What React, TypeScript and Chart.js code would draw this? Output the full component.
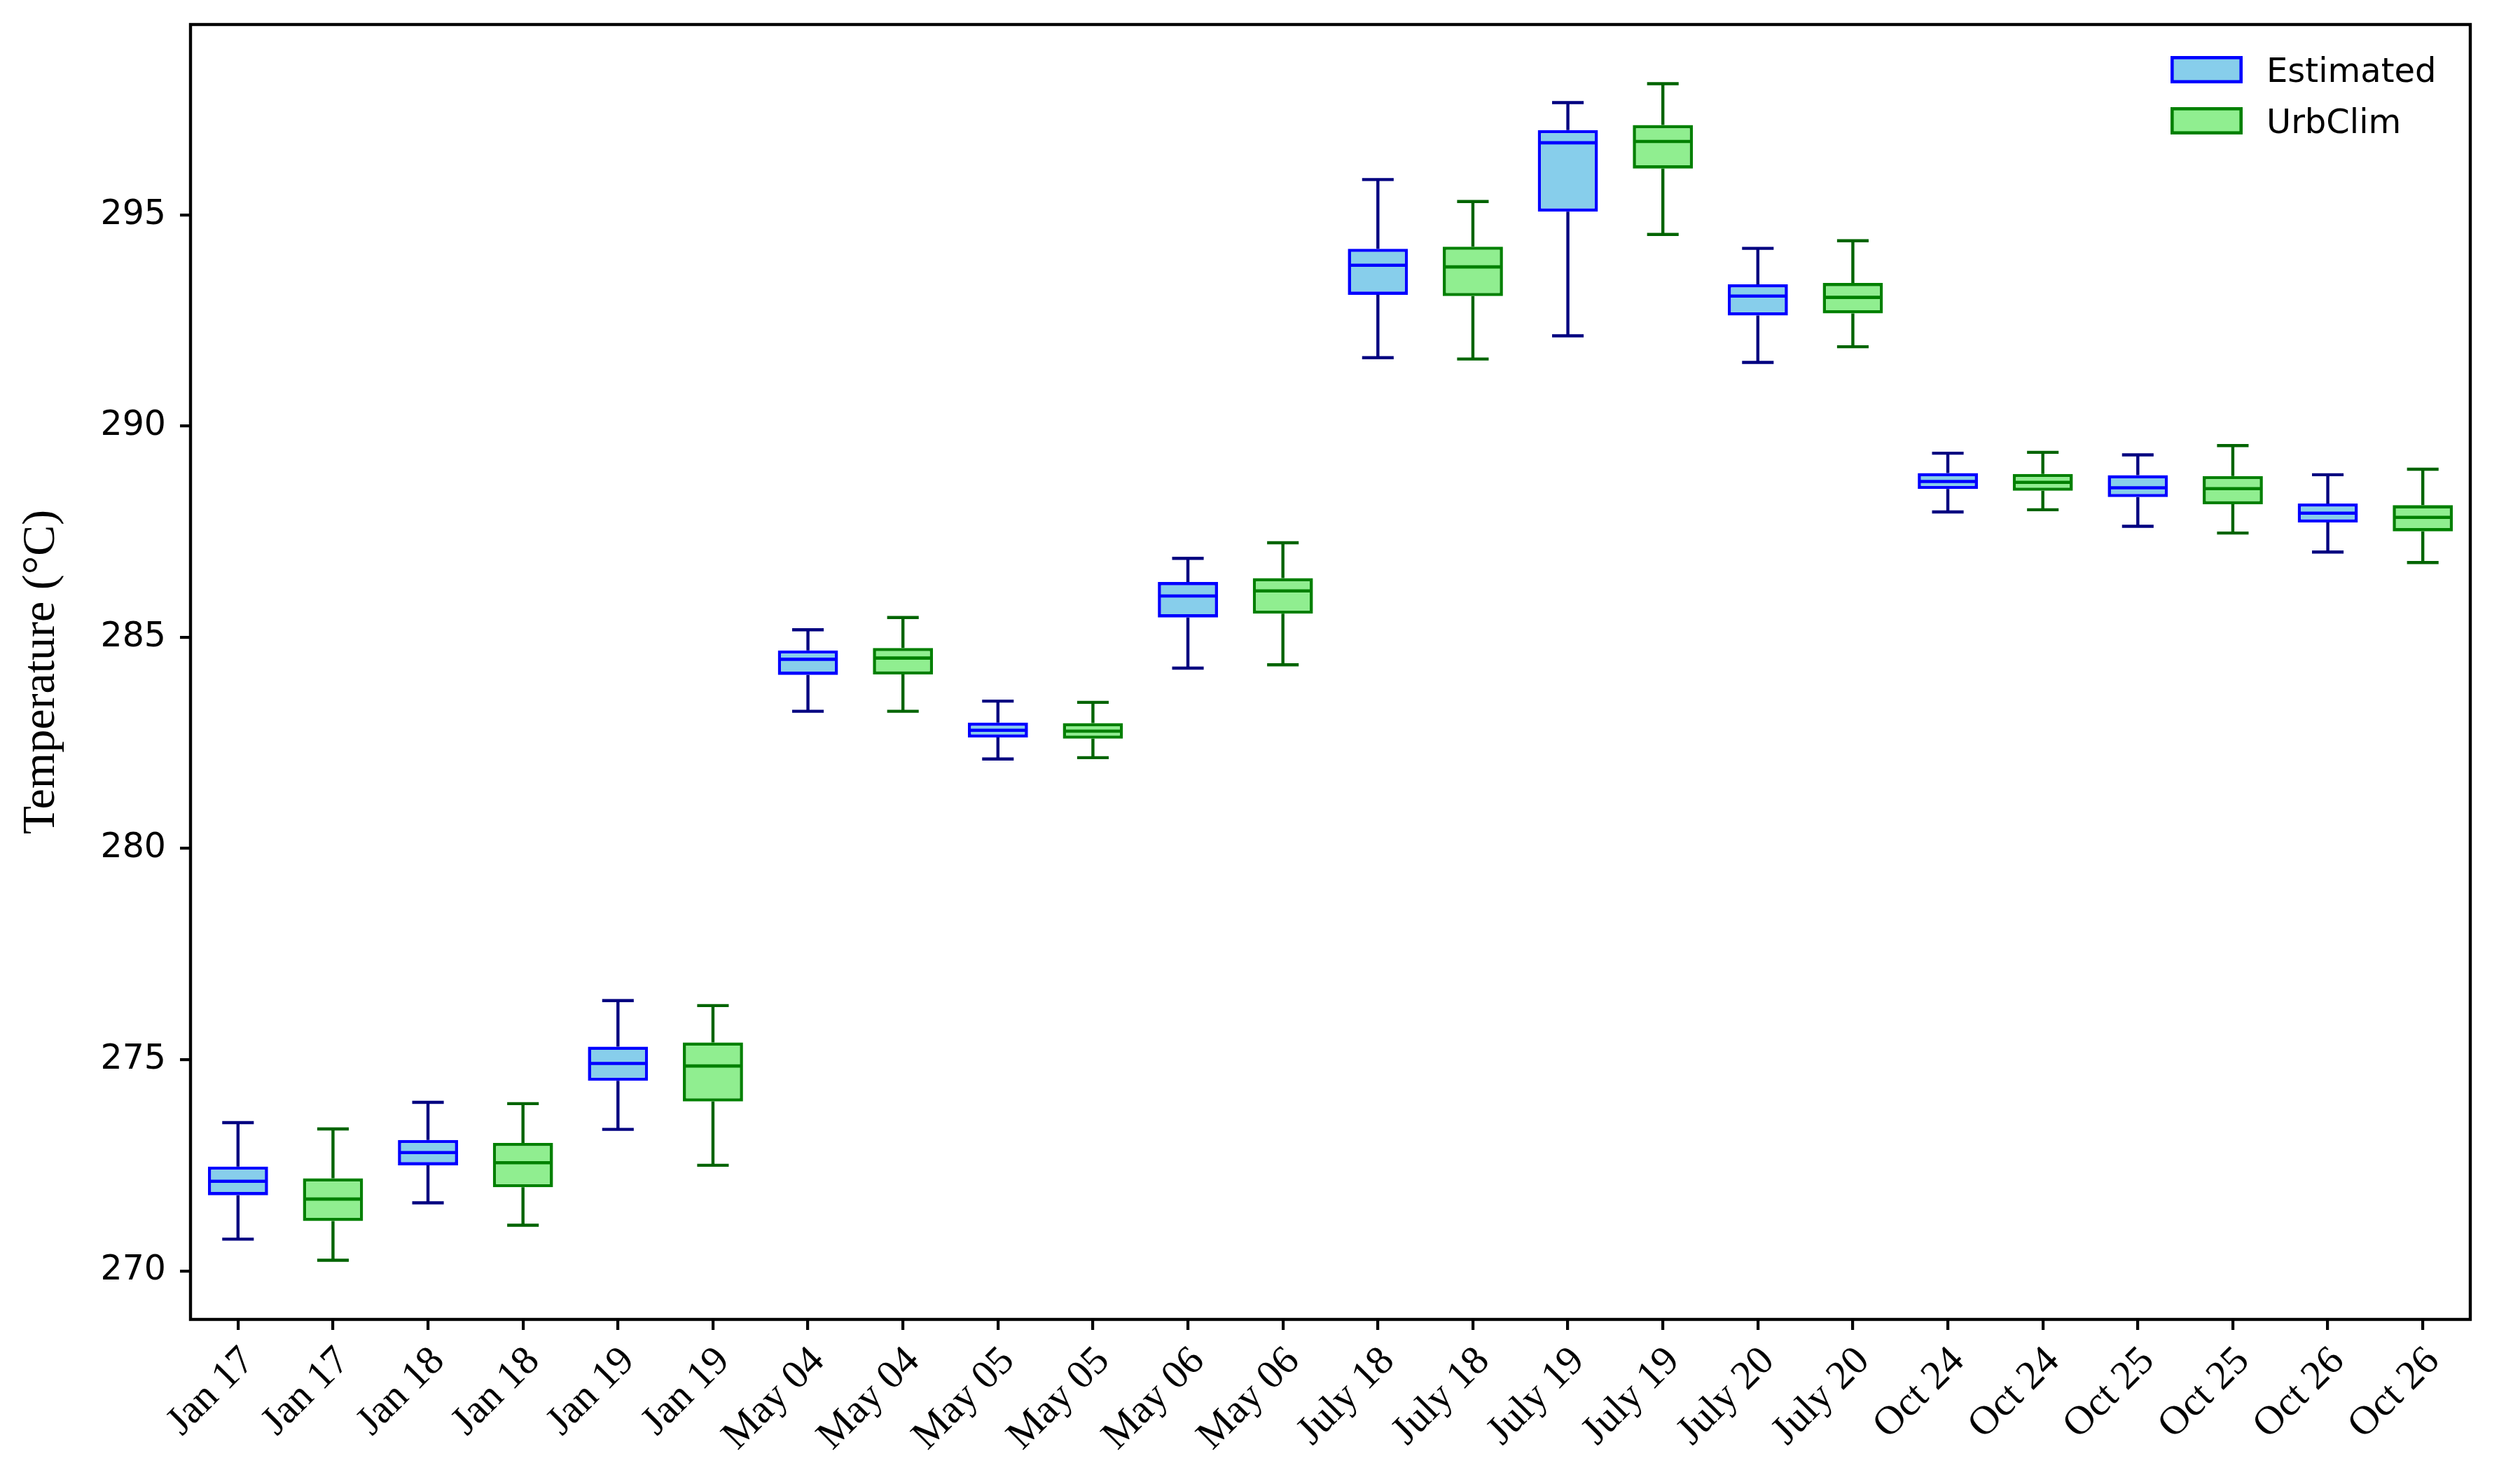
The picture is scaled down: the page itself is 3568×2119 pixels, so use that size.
import React, { useEffect, useRef } from "react";
import { Chart, registerables } from "chart.js";

Chart.register(...registerables);

const W = 3568;
const H = 2119;

// 24 tick labels (each date appears twice: Estimated, then UrbClim)
const categories = [
  "Jan 17", "Jan 17", "Jan 18", "Jan 18", "Jan 19", "Jan 19",
  "May 04", "May 04", "May 05", "May 05", "May 06", "May 06",
  "July 18", "July 18", "July 19", "July 19", "July 20", "July 20",
  "Oct 24", "Oct 24", "Oct 25", "Oct 25", "Oct 26", "Oct 26",
];

const seriesNames = ["Estimated", "UrbClim"];

// Estimated (one value per date)
const estLow = [270.75, 271.61, 273.35, 283.25, 282.12, 284.27, 291.62, 292.14, 291.51, 287.97, 287.63, 287.02];
const estQ1 = [271.79, 272.5, 274.5, 284.11, 282.63, 285.47, 293.11, 295.08, 292.62, 288.51, 288.32, 287.72];
const estMed = [272.12, 272.8, 274.91, 284.48, 282.8, 285.98, 293.81, 296.71, 293.08, 288.69, 288.54, 287.94];
const estQ3 = [272.47, 273.1, 275.31, 284.69, 282.98, 286.31, 294.2, 297.01, 293.36, 288.89, 288.84, 288.17];
const estHigh = [273.51, 273.99, 276.4, 285.18, 283.49, 286.87, 295.84, 297.66, 294.21, 289.36, 289.32, 288.85];

// UrbClim (one value per date)
const urbLow = [270.25, 271.08, 272.5, 283.25, 282.15, 284.35, 291.59, 294.54, 291.88, 288.02, 287.47, 286.77];
const urbQ1 = [271.18, 271.98, 274.01, 284.12, 282.6, 285.56, 293.08, 296.1, 292.67, 288.47, 288.15, 287.51];
const urbMed = [271.7, 272.56, 274.85, 284.51, 282.78, 286.1, 293.77, 296.74, 293.05, 288.67, 288.52, 287.84];
const urbQ3 = [272.19, 273.03, 275.41, 284.75, 282.97, 286.4, 294.25, 297.13, 293.39, 288.87, 288.82, 288.13];
const urbHigh = [273.36, 273.96, 276.28, 285.47, 283.46, 287.24, 295.32, 298.11, 294.39, 289.38, 289.54, 288.98];

const yTicks = [270, 275, 280, 285, 290, 295];
const yMin = 268.85;
const yMax = 299.51;

const stats = [
  { low: estLow, q1: estQ1, med: estMed, q3: estQ3, high: estHigh },
  { low: urbLow, q1: urbQ1, med: urbMed, q3: urbQ3, high: urbHigh },
];

const styles = [
  { fill: "#87CEEB", edge: "#0000FF", whisker: "#000080", median: "#0000FF" },
  { fill: "#90EE90", edge: "#008000", whisker: "#006400", median: "#008000" },
];

const BOX_LW = 4.6;
const WHISKER_LW = 4.4;
const SPINE_LW = 4.4;

function seriesData(si: number) {
  return categories.map((_, i) => {
    if (i % 2 !== si) return null;
    const d = i >> 1;
    return [stats[si].q1[d], stats[si].q3[d]];
  });
}

const boxExtras = {
  id: "boxExtras",
  afterDatasetsDraw(chart: any) {
    const ctx = chart.ctx;
    const ys = chart.scales.y;
    const xs = chart.scales.x;
    const spacing = xs.getPixelForValue(1) - xs.getPixelForValue(0);
    const capHalf = spacing * 0.15;
    ctx.save();
    chart.data.datasets.forEach((ds: any, di: number) => {
      const meta = chart.getDatasetMeta(di);
      const st = styles[di];
      const s = stats[di];
      meta.data.forEach((el: any, i: number) => {
        if (!ds.data[i]) return;
        const d = i >> 1;
        const x = el.x;
        const half = el.width / 2;
        const pLow = ys.getPixelForValue(s.low[d]);
        const pQ1 = ys.getPixelForValue(s.q1[d]);
        const pMed = ys.getPixelForValue(s.med[d]);
        const pQ3 = ys.getPixelForValue(s.q3[d]);
        const pHigh = ys.getPixelForValue(s.high[d]);
        // whiskers
        ctx.strokeStyle = st.whisker;
        ctx.lineWidth = WHISKER_LW;
        ctx.lineCap = "butt";
        ctx.beginPath();
        ctx.moveTo(x, pQ1);
        ctx.lineTo(x, pLow);
        ctx.moveTo(x, pQ3);
        ctx.lineTo(x, pHigh);
        ctx.stroke();
        // caps
        ctx.lineCap = "square";
        ctx.beginPath();
        ctx.moveTo(x - capHalf, pLow);
        ctx.lineTo(x + capHalf, pLow);
        ctx.moveTo(x - capHalf, pHigh);
        ctx.lineTo(x + capHalf, pHigh);
        ctx.stroke();
        // median
        ctx.strokeStyle = st.median;
        ctx.lineWidth = BOX_LW;
        ctx.lineCap = "butt";
        ctx.beginPath();
        ctx.moveTo(x - half + BOX_LW / 2, pMed);
        ctx.lineTo(x + half - BOX_LW / 2, pMed);
        ctx.stroke();
      });
    });
    ctx.restore();
  },
};

const framePlugin = {
  id: "frame",
  afterDraw(chart: any) {
    const { ctx, chartArea } = chart;
    ctx.save();
    ctx.strokeStyle = "#000";
    ctx.lineWidth = SPINE_LW;
    ctx.lineJoin = "miter";
    ctx.strokeRect(chartArea.left, chartArea.top, chartArea.right - chartArea.left, chartArea.bottom - chartArea.top);
    ctx.restore();
  },
};

const legendPlugin = {
  id: "customLegend",
  afterDraw(chart: any) {
    const { ctx, chartArea } = chart;
    ctx.save();
    const left = chartArea.right - 428;
    const pw = 103;
    const ph = 39;
    const rowTops = [chartArea.top + 45, chartArea.top + 118];
    const baselines = [chartArea.top + 82, chartArea.top + 155];
    seriesNames.forEach((name, i) => {
      const st = styles[i];
      const top = rowTops[i];
      ctx.fillStyle = st.fill;
      ctx.fillRect(left, top, pw, ph);
      ctx.strokeStyle = st.edge;
      ctx.lineWidth = BOX_LW;
      ctx.strokeRect(left + BOX_LW / 2, top + BOX_LW / 2, pw - BOX_LW, ph - BOX_LW);
      ctx.fillStyle = "#000";
      ctx.font = "48px 'DejaVu Sans'";
      ctx.textAlign = "left";
      ctx.textBaseline = "alphabetic";
      ctx.fillText(name, chartArea.right - 291, baselines[i]);
    });
    ctx.restore();
  },
};

export default function App() {
  const ref = useRef<HTMLCanvasElement>(null);

  useEffect(() => {
    const canvas = ref.current;
    if (!canvas) return;
    const chart = new Chart(canvas, {
      type: "bar",
      data: {
        labels: categories,
        datasets: seriesNames.map((name, si) => ({
          label: name,
          data: seriesData(si) as any,
          backgroundColor: styles[si].fill,
          borderColor: styles[si].edge,
          borderWidth: BOX_LW,
          borderSkipped: false,
          grouped: false,
          barPercentage: 0.633,
          categoryPercentage: 1.0,
        })),
      },
      options: {
        responsive: false,
        animation: false,
        devicePixelRatio: 1,
        layout: { padding: { left: 0, top: 35, right: 41, bottom: 0 } },
        plugins: {
          legend: { display: false },
          tooltip: { enabled: false },
          title: { display: false },
        },
        scales: {
          x: {
            type: "category",
            offset: true,
            border: { display: false },
            grid: {
              offset: false,
              drawOnChartArea: false,
              drawTicks: true,
              tickLength: 15,
              tickWidth: 4.2,
              tickColor: "#000",
              lineWidth: 4.2,
              color: "#000",
            },
            ticks: {
              autoSkip: false,
              minRotation: 45,
              maxRotation: 45,
              labelOffset: 15,
              padding: 11,
              color: "#000",
              font: { family: "'Liberation Serif', 'Times New Roman', serif", size: 58 },
            },
            afterFit: (scale: any) => {
              scale.height = 235;
              scale.paddingLeft = 0;
              scale.paddingRight = 0;
            },
          },
          y: {
            type: "linear",
            min: yMin,
            max: yMax,
            border: { display: false },
            grid: {
              drawOnChartArea: false,
              drawTicks: true,
              tickLength: 15,
              tickWidth: 4.2,
              tickColor: "#000",
              lineWidth: 4.2,
              color: "#000",
            },
            afterBuildTicks: (scale: any) => {
              scale.ticks = yTicks.map((v) => ({ value: v }));
            },
            ticks: {
              includeBounds: false,
              padding: 20,
              color: "#000",
              font: { family: "'DejaVu Sans', sans-serif", size: 49 },
              callback: (v: any) => String(v),
            },
            title: {
              display: true,
              text: "Temperature (°C)",
              color: "#000",
              font: { family: "'Liberation Serif', 'Times New Roman', serif", size: 66 },
              padding: { top: 20, bottom: 0 },
            },
            afterFit: (scale: any) => {
              scale.width = 272;
              scale.paddingTop = 0;
              scale.paddingBottom = 0;
            },
          },
        },
      },
      plugins: [boxExtras, framePlugin, legendPlugin],
    } as any);
    return () => chart.destroy();
  }, []);

  return (
    <div style={{ position: "fixed", left: 0, top: 0, width: W, height: H, background: "#fff" }}>
      <canvas ref={ref} width={W} height={H} style={{ width: W, height: H, display: "block" }} />
    </div>
  );
}
